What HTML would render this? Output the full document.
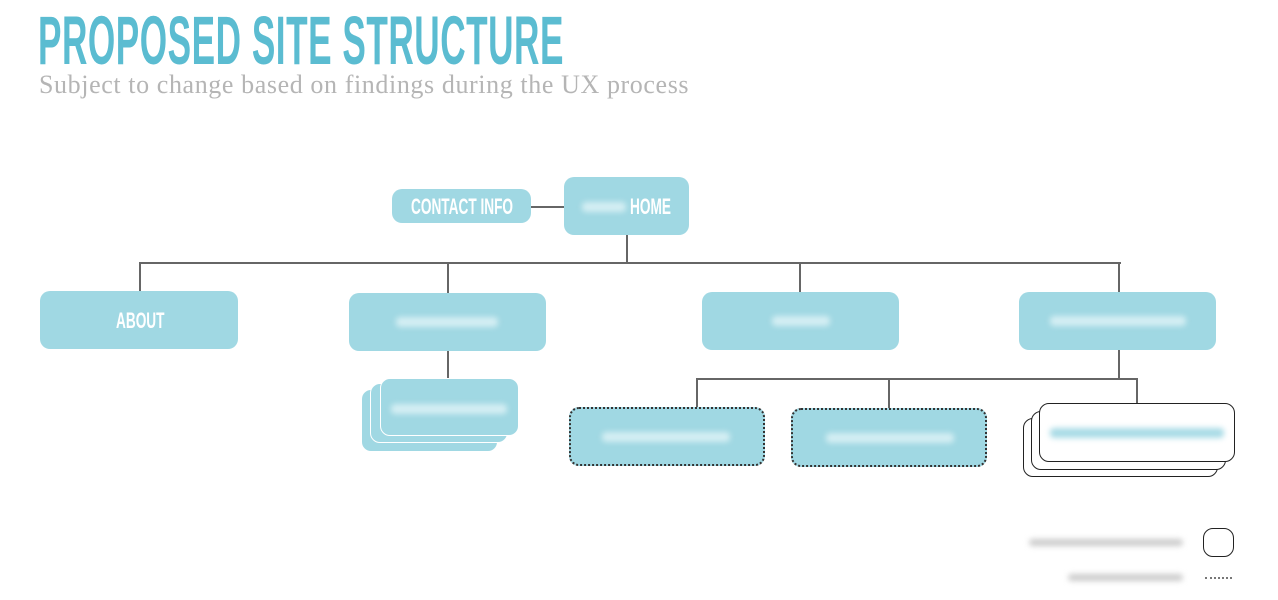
<!DOCTYPE html>
<html><head><meta charset="utf-8"><style>
body{margin:0;width:1278px;height:600px;background:#fff;position:relative;overflow:hidden;font-family:"Liberation Sans",sans-serif}
.a{position:absolute}
.b{position:absolute;background:#a0d8e3;border-radius:10px;box-sizing:border-box}
.ln{position:absolute;background:#666}
.t{position:absolute;color:#fff;font-weight:bold;white-space:nowrap;transform-origin:0 0;transform:scaleX(0.62)}
.bl{position:absolute;height:10px;background:#d4eef3;filter:blur(3px);border-radius:4px}
.d{border:2px dotted #333}
.w{position:absolute;background:#fff;border:1px solid #222;border-radius:10px;box-sizing:border-box}
</style></head><body>
<div class="a" style="left:38px;top:1px;font-size:69px;font-weight:bold;color:#5bbcd1;white-space:nowrap;transform-origin:0 0;transform:scaleX(0.51);letter-spacing:1px">PROPOSED SITE STRUCTURE</div>
<div class="a" style="left:39px;top:70px;font-family:'Liberation Serif',serif;font-size:26px;letter-spacing:0.6px;color:#b5b5b5;white-space:nowrap">Subject to change based on findings during the UX process</div>

<div class="ln" style="left:531px;top:206px;width:34px;height:2px"></div>
<div class="ln" style="left:626px;top:235px;width:2px;height:29px"></div>
<div class="ln" style="left:139px;top:262px;width:982px;height:2px"></div>
<div class="ln" style="left:139px;top:262px;width:2px;height:30px"></div>
<div class="ln" style="left:447px;top:262px;width:2px;height:31px"></div>
<div class="ln" style="left:799px;top:262px;width:2px;height:30px"></div>
<div class="ln" style="left:1118px;top:262px;width:2px;height:30px"></div>
<div class="ln" style="left:447px;top:350px;width:2px;height:29px"></div>
<div class="ln" style="left:1118px;top:350px;width:2px;height:30px"></div>
<div class="ln" style="left:696px;top:378px;width:442px;height:2px"></div>
<div class="ln" style="left:696px;top:378px;width:2px;height:30px"></div>
<div class="ln" style="left:888px;top:378px;width:2px;height:30px"></div>
<div class="ln" style="left:1136px;top:378px;width:2px;height:26px"></div>

<div class="b" style="left:392px;top:189px;width:139px;height:34px"></div>
<div class="t" style="left:411px;top:194px;font-size:22px">CONTACT INFO</div>
<div class="b" style="left:564px;top:177px;width:125px;height:58px"></div>
<div class="bl" style="left:582px;top:202px;width:44px"></div>
<div class="t" style="left:630px;top:194px;font-size:22px">HOME</div>

<div class="b" style="left:40px;top:291px;width:198px;height:58px"></div>
<div class="t" style="left:116px;top:308px;font-size:22px">ABOUT</div>
<div class="b" style="left:349px;top:293px;width:197px;height:58px"></div>
<div class="bl" style="left:396px;top:317px;width:102px"></div>
<div class="b" style="left:702px;top:292px;width:197px;height:58px"></div>
<div class="bl" style="left:772px;top:316px;width:58px"></div>
<div class="b" style="left:1019px;top:292px;width:197px;height:58px"></div>
<div class="bl" style="left:1050px;top:316px;width:136px"></div>

<div class="b" style="left:361px;top:389px;width:137px;height:63px;border:1px solid #fff"></div>
<div class="b" style="left:370px;top:383px;width:138px;height:60px;border:1px solid #fff"></div>
<div class="b" style="left:380px;top:378px;width:139px;height:58px;border:1px solid #fff"></div>
<div class="bl" style="left:391px;top:404px;width:116px"></div>

<div class="b d" style="left:569px;top:407px;width:196px;height:59px"></div>
<div class="bl" style="left:602px;top:432px;width:128px"></div>
<div class="b d" style="left:791px;top:408px;width:196px;height:59px"></div>
<div class="bl" style="left:826px;top:433px;width:128px"></div>

<div class="w" style="left:1023px;top:418px;width:195px;height:59px"></div>
<div class="w" style="left:1031px;top:411px;width:195px;height:59px"></div>
<div class="w" style="left:1039px;top:403px;width:196px;height:59px"></div>
<div class="bl" style="left:1050px;top:428px;width:174px;background:#a9dbe6"></div>

<div class="bl" style="left:1029px;top:539px;width:154px;height:7px;background:#ccc"></div>
<div class="w" style="left:1203px;top:528px;width:31px;height:29px"></div>
<div class="bl" style="left:1068px;top:574px;width:115px;height:7px;background:#ccc"></div>
<div class="a" style="left:1205px;top:577px;width:27px;border-top:2px dotted #777"></div>
</body></html>
